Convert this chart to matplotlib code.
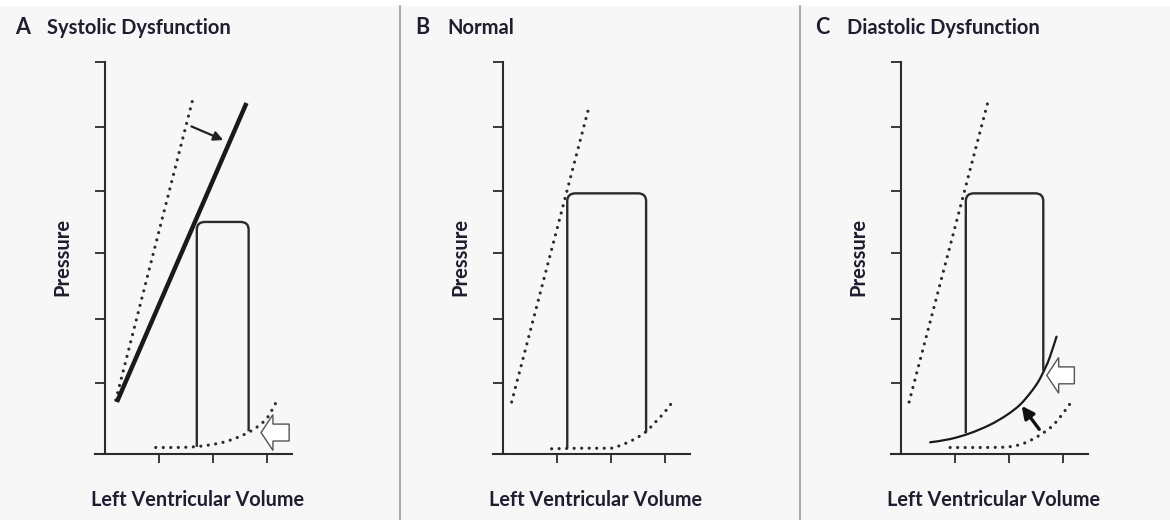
import matplotlib
matplotlib.use("Agg")
import matplotlib.pyplot as plt
from matplotlib.patches import FancyArrow, PathPatch, Rectangle
from matplotlib.path import Path
from matplotlib.lines import Line2D

# --- panel text ---
panel_letters = ["A", "B", "C"]
panel_titles = ["Systolic Dysfunction", "Normal", "Diastolic Dysfunction"]
x_label = "Left Ventricular Volume"
y_label = "Pressure"

# axis ticks (data units)
y_ticks = [1.09, 2.08, 3.09, 4.05, 5.03, 6.03]
x_ticks = [1, 2, 3]

# --- A: systolic dysfunction ---
espvr_normal_a_x = [0.20, 1.62]
espvr_normal_a_y = [0.83, 5.44]
espvr_low_a_x = [0.22, 2.62]
espvr_low_a_y = [0.80, 5.40]
edpvr_a_x = [0.94, 1.30, 1.64, 1.94, 2.19, 2.44, 2.685, 2.87, 3.02, 3.21]
edpvr_a_y = [0.10, 0.10, 0.11, 0.14, 0.18, 0.25, 0.345, 0.45, 0.575, 0.86]
loop_a = dict(left=1.70, left_bottom=0.11, top=3.57, right=2.66, right_bottom=0.35)

# --- B: normal ---
espvr_b_x = [0.16, 1.58]
espvr_b_y = [0.80, 5.30]
edpvr_b_x = [0.90, 1.50, 2.01, 2.135, 2.38, 2.63, 2.81, 3.00, 3.17]
edpvr_b_y = [0.08, 0.09, 0.09, 0.12, 0.205, 0.33, 0.48, 0.65, 0.84]
loop_b = dict(left=1.19, left_bottom=0.09, top=4.01, right=2.65, right_bottom=0.33)

# --- C: diastolic dysfunction ---
espvr_c_x = [0.15, 1.62]
espvr_c_y = [0.80, 5.45]
edpvr_c_x = [0.91, 1.50, 1.99, 2.26, 2.51, 2.76, 2.94, 3.17]
edpvr_c_y = [0.10, 0.10, 0.11, 0.16, 0.26, 0.40, 0.56, 0.82]
stiff_c_x = [0.54, 0.91, 1.28, 1.65, 1.96, 2.20, 2.39, 2.54, 2.67, 2.76, 2.88]
stiff_c_y = [0.18, 0.23, 0.32, 0.45, 0.60, 0.755, 0.935, 1.11, 1.32, 1.50, 1.805]
loop_c = dict(left=1.20, left_bottom=0.32, top=4.01, right=2.635, right_bottom=1.28)

# arrows: (tail, head)
small_arrow_a = ((1.60, 5.04), (2.19, 4.83))
small_arrow_c = ((2.56, 0.38), (2.235, 0.74))
# hollow arrows: start x, y centre, length
hollow_a = (3.41, 0.33, 0.52)
hollow_c = (3.21, 1.21, 0.51)

INK = "#2b2b2b"
TXT = "#1e1e30"
BG = "#f7f7f7"
W, H = 1170, 520
SX, SY = 54.0, 65.0           # px per data unit
ORIGINS = [105, 503, 901]     # y-axis x position (px)
BASE_Y = 454                  # x-axis y position (px)
XMIN, XMAX, YMIN, YMAX = -0.4, 3.7, -0.35, 6.3

plt.rcParams["lines.scale_dashes"] = False
plt.rcParams["font.family"] = ["Lato", "DejaVu Sans"]

DOTS = (0, (0.01, 5.4))
dotted = dict(color=INK, lw=2.3, linestyle=DOTS,
              dash_capstyle="round", solid_capstyle="round")

fig = plt.figure(figsize=(W / 100, H / 100), dpi=100)
fig.patch.set_facecolor("white")
fig.patches.append(Rectangle((0, 0), 1, (H - 6) / H, transform=fig.transFigure,
                             facecolor=BG, edgecolor="none", zorder=-10))
for sep in [400, 800]:
    fig.add_artist(Line2D([sep / W, sep / W], [0, (H - 6) / H],
                          transform=fig.transFigure, color="#9a9a9a", lw=1.2,
                          zorder=-5))


def smooth_path(xs, ys):
    # Catmull-Rom through the read points, drawn as cubic Bezier segments
    pts = list(zip(xs, ys))
    ext = [pts[0]] + pts + [pts[-1]]
    verts = [pts[0]]
    codes = [Path.MOVETO]
    for k in range(1, len(ext) - 2):
        p0, p1, p2, p3 = ext[k - 1], ext[k], ext[k + 1], ext[k + 2]
        c1 = (p1[0] + (p2[0] - p0[0]) / 6, p1[1] + (p2[1] - p0[1]) / 6)
        c2 = (p2[0] - (p3[0] - p1[0]) / 6, p2[1] - (p3[1] - p1[1]) / 6)
        verts += [c1, c2, p2]
        codes += [Path.CURVE4] * 3
    return Path(verts, codes)


def curve(ax, xs, ys, dots=False, lw=1.6, color="#1a1a1a"):
    if dots:
        patch = PathPatch(smooth_path(xs, ys), fill=False, edgecolor=INK, lw=2.3,
                          linestyle=DOTS, capstyle="round")
    else:
        patch = PathPatch(smooth_path(xs, ys), fill=False, edgecolor=color, lw=lw,
                          capstyle="round")
    ax.add_patch(patch)


def loop_path(p, rx=0.15, ry=0.12):
    l, lb, t, r, rb = p["left"], p["left_bottom"], p["top"], p["right"], p["right_bottom"]
    verts = [(l, lb), (l, t - ry), (l, t), (l + rx, t), (r - rx, t), (r, t), (r, t - ry), (r, rb)]
    codes = [Path.MOVETO, Path.LINETO, Path.CURVE3, Path.CURVE3,
             Path.LINETO, Path.CURVE3, Path.CURVE3, Path.LINETO]
    return Path(verts, codes)


def hollow(ax, spec):
    x0, yc, length = spec
    ax.add_patch(FancyArrow(x0, yc, -length, 0, width=0.26, head_width=0.55,
                            head_length=0.22, length_includes_head=True,
                            facecolor="white", edgecolor="#555555", lw=1.0, zorder=4))


axes = []
for i, ox in enumerate(ORIGINS):
    left = (ox + XMIN * SX) / W
    bottom = 1 - (BASE_Y - YMIN * SY) / H
    ax = fig.add_axes([left, bottom, (XMAX - XMIN) * SX / W, (YMAX - YMIN) * SY / H])
    ax.set_xlim(XMIN, XMAX)
    ax.set_ylim(YMIN, YMAX)
    ax.patch.set_alpha(0)
    for s in ["top", "right"]:
        ax.spines[s].set_visible(False)
    ax.spines["left"].set_position(("data", 0))
    ax.spines["bottom"].set_position(("data", 0))
    ax.spines["left"].set_bounds(0, y_ticks[-1])
    ax.spines["bottom"].set_bounds(-0.185, 3.46)
    for s in ["left", "bottom"]:
        ax.spines[s].set_color(INK)
        ax.spines[s].set_linewidth(1.5)
    ax.set_yticks(y_ticks)
    ax.set_xticks(x_ticks)
    ax.set_xticklabels([])
    ax.set_yticklabels([])
    ax.tick_params(axis="y", direction="out", length=7.2, width=1.3, color=INK)
    ax.tick_params(axis="x", direction="out", length=6.5, width=1.3, color=INK)

    px0 = 400 * i
    fig.text((px0 + 15) / W, 1 - 28 / H, panel_letters[i], fontsize=15.5,
             fontweight="bold", color=TXT, va="center", ha="left")
    fig.text((px0 + 47) / W, 1 - 28 / H, panel_titles[i], fontsize=14.5,
             fontweight="bold", color=TXT, va="center", ha="left")
    fig.text((ox - 43) / W, 1 - 257 / H, y_label, rotation=90, fontsize=14.5,
             fontweight="bold", color=TXT, va="center", ha="center")
    fig.text((ox + 93) / W, 1 - 500 / H, x_label, fontsize=14.3,
             fontweight="bold", color=TXT, va="center", ha="center")
    axes.append(ax)

# A
ax = axes[0]
ax.plot(espvr_normal_a_x, espvr_normal_a_y, **dotted)
curve(ax, edpvr_a_x, edpvr_a_y, dots=True)
ax.plot(espvr_low_a_x, espvr_low_a_y, color="#1a1a1a", lw=3.2, solid_capstyle="butt")
ax.add_patch(PathPatch(loop_path(loop_a), fill=False, edgecolor=INK, lw=1.7))
ax.annotate("", xy=small_arrow_a[1], xytext=small_arrow_a[0],
            arrowprops=dict(arrowstyle="-|>", color="#222222", lw=1.6,
                            mutation_scale=14, shrinkA=0, shrinkB=0))
hollow(ax, hollow_a)

# B
ax = axes[1]
ax.plot(espvr_b_x, espvr_b_y, **dotted)
curve(ax, edpvr_b_x, edpvr_b_y, dots=True)
ax.add_patch(PathPatch(loop_path(loop_b), fill=False, edgecolor=INK, lw=1.7))

# C
ax = axes[2]
ax.plot(espvr_c_x, espvr_c_y, **dotted)
curve(ax, edpvr_c_x, edpvr_c_y, dots=True)
curve(ax, stiff_c_x, stiff_c_y, lw=1.6)
ax.add_patch(PathPatch(loop_path(loop_c), fill=False, edgecolor=INK, lw=1.7))
ax.annotate("", xy=small_arrow_c[1], xytext=small_arrow_c[0],
            arrowprops=dict(arrowstyle="-|>", color="#111111", lw=2.4,
                            mutation_scale=18, shrinkA=0, shrinkB=0))
hollow(ax, hollow_c)

fig.savefig("out.png", dpi=100, facecolor=fig.get_facecolor())
